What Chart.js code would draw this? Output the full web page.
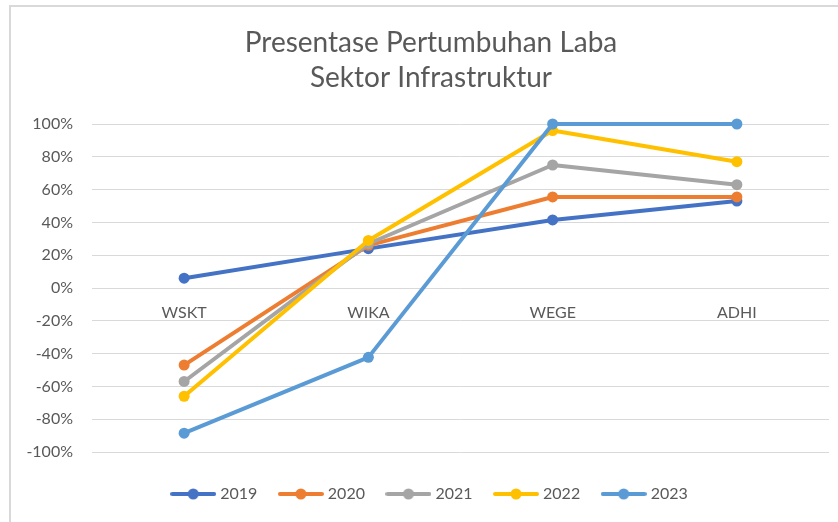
<!DOCTYPE html>
<html>
<head>
<meta charset="utf-8">
<script src="https://cdn.jsdelivr.net/npm/chart.js@4/dist/chart.umd.min.js"></script>
<style>
html,body{margin:0;padding:0;background:#fff;}
#wrap{width:838px;height:522px;position:relative;}
</style>
</head>
<body>
<div id="wrap"><canvas id="c" width="838" height="522"></canvas></div>
<script>
const categories = ['WSKT', 'WIKA', 'WEGE', 'ADHI'];
const seriesNames = ['2019', '2020', '2021', '2022', '2023'];
const s2019 = [6, 24, 41.5, 53];
const s2020 = [-47, 26, 55.5, 55.5];
const s2021 = [-57, 27, 75, 63];
const s2022 = [-66, 29, 96, 77];
const s2023 = [-88.5, -42.3, 100, 100];
const yTicks = [-100, -80, -60, -40, -20, 0, 20, 40, 60, 80, 100];

const colors = ['#4472C4', '#ED7D31', '#A5A5A5', '#FFC000', '#5B9BD5'];
const seriesValues = [s2019, s2020, s2021, s2022, s2023];
const FONT = 'Lato';
const TXT = '#595959';

function legendIcon(color) {
  const c = document.createElement('canvas');
  c.width = 46; c.height = 12;
  const x = c.getContext('2d');
  x.strokeStyle = color; x.lineWidth = 4; x.lineCap = 'round';
  x.beginPath(); x.moveTo(2, 6); x.lineTo(44, 6); x.stroke();
  x.fillStyle = color;
  x.beginPath(); x.arc(23, 6, 5.5, 0, Math.PI * 2); x.fill();
  return c;
}

const datasets = seriesNames.map((name, i) => ({
  label: name,
  data: seriesValues[i],
  borderColor: colors[i],
  backgroundColor: colors[i],
  borderWidth: 4,
  pointRadius: 5.5,
  pointHoverRadius: 5.5,
  pointBorderWidth: 0,
  pointBackgroundColor: colors[i],
  pointStyle: 'circle',
  tension: 0,
  clip: false,
  borderCapStyle: 'round',
  borderJoinStyle: 'round',
  order: seriesNames.length - i,
  icon: legendIcon(colors[i])
}));

const borderPlugin = {
  id: 'frame',
  beforeDraw(chart) {
    const ctx = chart.ctx;
    ctx.save();
    ctx.fillStyle = '#fff';
    ctx.fillRect(0, 0, chart.width, chart.height);
    ctx.strokeStyle = '#d9d9d9';
    ctx.lineWidth = 2;
    ctx.strokeRect(10, 6, 1000, 1000);
    ctx.restore();
  }
};

new Chart(document.getElementById('c'), {
  type: 'line',
  data: { labels: categories, datasets },
  options: {
    responsive: false,
    animation: false,
    devicePixelRatio: 1,
    layout: { padding: { left: 24, right: 0, top: 0, bottom: 10 } },
    plugins: {
      title: {
        display: true,
        text: ['Presentase Pertumbuhan Laba', 'Sektor Infrastruktur'],
        color: TXT,
        font: { family: FONT, size: 28, weight: 'normal', lineHeight: 1.25 },
        padding: { top: 25.5, bottom: 28.5 }
      },
      legend: {
        position: 'bottom',
        title: { display: true, text: '', font: { size: 1, lineHeight: 1 }, padding: { top: 8.5, bottom: 0 } },
        labels: {
          usePointStyle: true,
          pointStyleWidth: 38,
          padding: 24.5,
          color: TXT,
          font: { family: FONT, size: 16 },
          sort: (a, b) => a.datasetIndex - b.datasetIndex,
          generateLabels(chart) {
            return chart.data.datasets.map((ds, i) => ({
              text: ds.label,
              fillStyle: ds.borderColor,
              strokeStyle: ds.borderColor,
              fontColor: TXT,
              lineWidth: 0,
              pointStyle: ds.icon,
              hidden: false,
              datasetIndex: i
            }));
          }
        }
      },
      tooltip: { enabled: false }
    },
    scales: {
      x: {
        type: 'category',
        offset: true,
        position: { y: 0 },
        grid: { display: false, drawTicks: false },
        border: { display: false },
        ticks: { color: TXT, font: { family: FONT, size: 16 }, padding: 15, maxRotation: 0 }
      },
      y: {
        min: -100,
        max: 100,
        afterFit(scale) { scale.width = 68; },
        afterBuildTicks(scale) { scale.ticks = yTicks.map(v => ({ value: v })); },
        grid: { color: '#d9d9d9', lineWidth: 1, drawTicks: false },
        border: { display: false },
        ticks: {
          color: TXT,
          font: { family: FONT, size: 16 },
          padding: 19,
          callback: v => v + '%'
        }
      },
      yR: {
        position: 'right',
        display: true,
        min: -100,
        max: 100,
        afterFit(scale) { scale.width = 9; },
        grid: { display: false, drawTicks: false },
        border: { display: false },
        ticks: { display: false }
      }
    }
  },
  plugins: [borderPlugin]
});
</script>
</body>
</html>
